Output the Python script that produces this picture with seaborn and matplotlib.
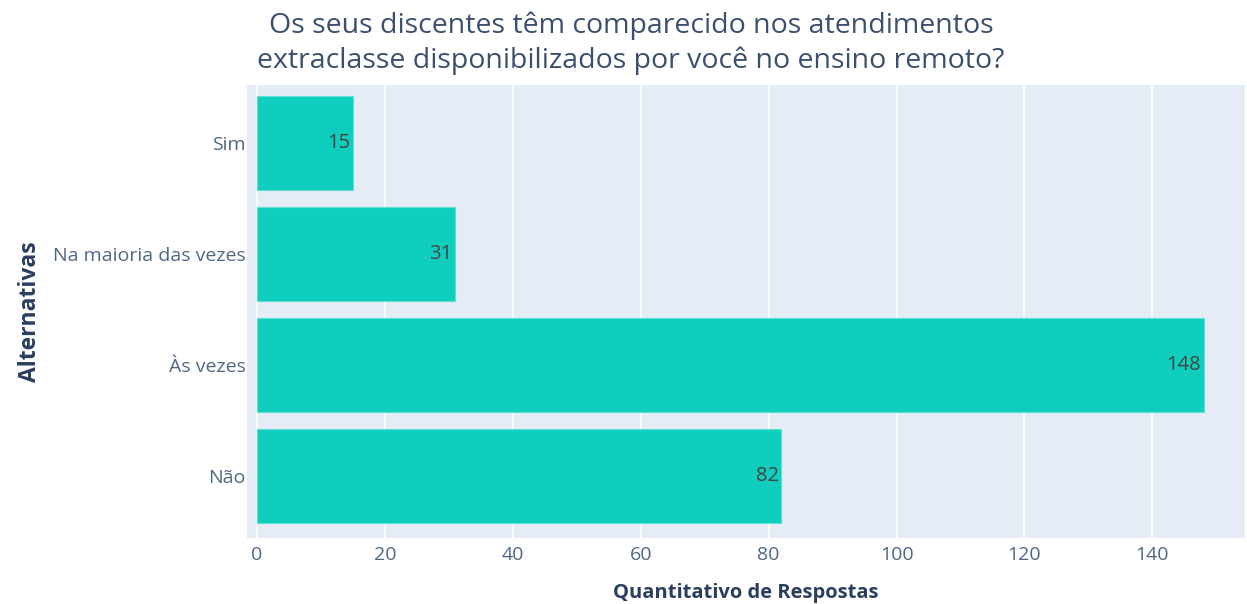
import matplotlib
matplotlib.use("Agg")
import matplotlib.pyplot as plt
import seaborn as sns
import pandas as pd

# dados
alternativas = ["Sim", "Na maioria das vezes", "Às vezes", "Não"]
respostas = [15, 31, 148, 82]
xticks = [0, 20, 40, 60, 80, 100, 120, 140]

df = pd.DataFrame({"Alternativas": alternativas, "Quantitativo de Respostas": respostas})

sns.set_theme(style="white")
plt.rcParams["font.family"] = ["Open Sans", "DejaVu Sans"]

texto = "#2a3f5f"
fig = plt.figure(figsize=(12.47, 6.04), dpi=100)
ax = fig.add_axes([0.198, 0.109, 0.8, 0.75])
ax.set_facecolor("#e5ecf6")

sns.barplot(data=df, x="Quantitativo de Respostas", y="Alternativas", orient="h",
            color="#0fcebd", saturation=1, width=0.84, edgecolor="#5fe0d2",
            linewidth=0.8, ax=ax)

# rótulos dentro das barras
for p in ax.patches:
    ax.text(p.get_width() - 0.4, p.get_y() + p.get_height() / 2, f"{int(p.get_width())}",
            ha="right", va="center", fontsize=14.5, color="#444444")

ax.set_xlim(-1.56, 154.4)
ax.set_ylim(3.56, -0.52)
ax.set_xticks(xticks)
ax.grid(axis="x", color="white", linewidth=1.2)
ax.set_axisbelow(True)
for s in ax.spines.values():
    s.set_visible(False)
ax.tick_params(axis="both", length=0, labelsize=14, labelcolor="#506784")
ax.tick_params(axis="x", pad=6)
ax.tick_params(axis="y", pad=1)

ax.set_xlabel("Quantitativo de Respostas", fontsize=14.5, fontweight="bold", color=texto, labelpad=13)
ax.set_ylabel("Alternativas", fontsize=16.5, fontweight="bold", color=texto, labelpad=8)

fig.text(0.506, 0.928, "Os seus discentes têm comparecido nos atendimentos\nextraclasse disponibilizados por você no ensino remoto?",
         ha="center", va="center", fontsize=20.5, color="#3c4f6e", linespacing=1.32)

fig.savefig("out.png", dpi=100)
